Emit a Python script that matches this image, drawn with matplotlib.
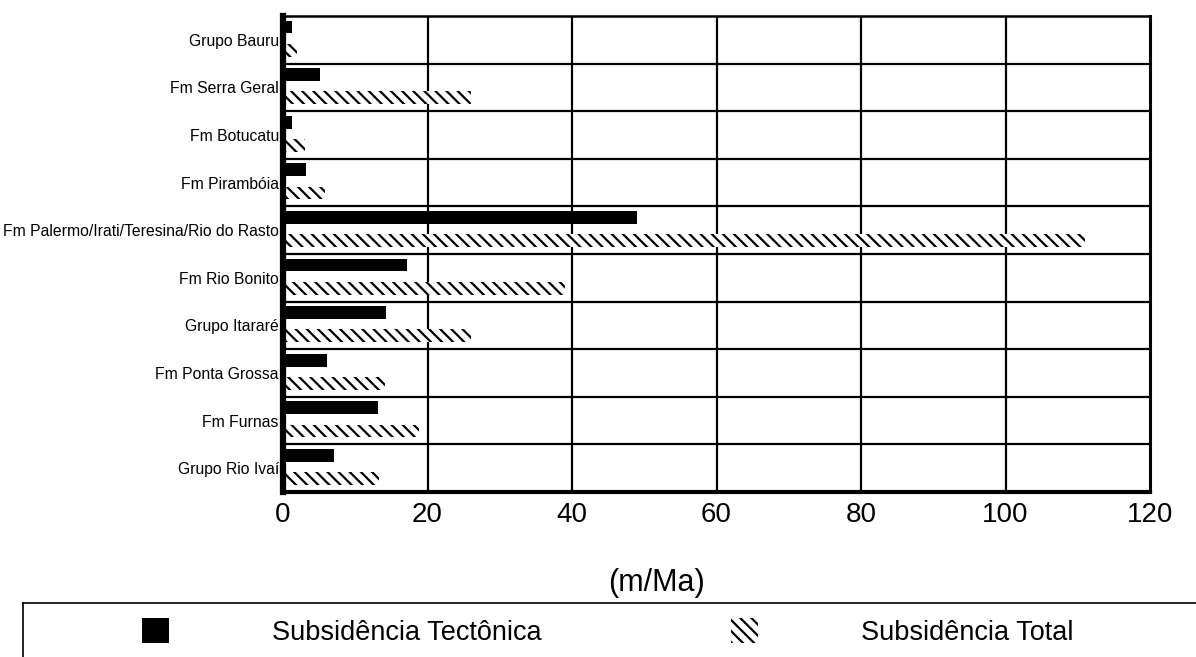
import matplotlib
matplotlib.use("Agg")
import matplotlib.pyplot as plt
from matplotlib.patches import Patch
from matplotlib.lines import Line2D
import numpy as np

plt.rcParams['font.family'] = ['Liberation Sans', 'DejaVu Sans']
plt.rcParams['hatch.linewidth'] = 1.6

categories = ["Grupo Bauru", "Fm Serra Geral", "Fm Botucatu", "Fm Pirambóia",
              "Fm Palermo/Irati/Teresina/Rio do Rasto", "Fm Rio Bonito",
              "Grupo Itararé", "Fm Ponta Grossa", "Fm Furnas", "Grupo Rio Ivaí"]
tectonica = [1.2, 5.1, 1.2, 3.2, 49, 17.1, 14.2, 6.1, 13.2, 7.1]
total = [2, 26, 3, 5.8, 111, 39, 26, 14.1, 18.8, 13.3]
xticks = [0, 20, 40, 60, 80, 100, 120]
series_names = ["Subsidência Tectônica", "Subsidência Total"]

HATCH = '\\\\\\'

fig = plt.figure(figsize=(11.96, 6.57), dpi=100)
ax = fig.add_axes([283/1196, 1-492/657, (1150-283)/1196, (492-16)/657])

y = np.arange(len(categories))
ax.barh(y - 0.27, tectonica, height=0.27, color='black', zorder=3)
ax.barh(y + 0.22, total, height=0.27, facecolor='white', edgecolor='black',
        linewidth=0, hatch=HATCH, zorder=3)

ax.set_xlim(0, 120)
ax.set_ylim(len(categories) - 0.5, -0.5)
ax.set_xticks(xticks)
ax.set_xticklabels([str(t) for t in xticks], fontsize=20)
ax.set_yticks(y)
ax.set_yticklabels(categories, fontsize=11.3)
ax.tick_params(axis='both', length=0)
ax.tick_params(axis='x', pad=7)
ax.tick_params(axis='y', pad=3)

for xv in xticks[1:-1]:
    ax.axvline(xv, color='black', lw=1.6, zorder=2)
for b in np.arange(0.5, len(categories) - 0.5, 1.0):
    ax.axhline(b, color='black', lw=1.6, zorder=2)

ax.spines['left'].set_linewidth(4.5)
ax.spines['bottom'].set_linewidth(3)
ax.spines['top'].set_linewidth(1.8)
ax.spines['right'].set_linewidth(2.2)
for s in ax.spines.values():
    s.set_zorder(4)

ax.set_xlabel("(m/Ma)", fontsize=22)
ax.xaxis.set_label_coords((657-283)/867, -(583-492)/476)
ax.xaxis.label.set_verticalalignment('center')

# legend frame lines (top and left)
fig.add_artist(Line2D([23/1196, 1.0], [1-603/657, 1-603/657],
                      transform=fig.transFigure, color='black', lw=1.2))
fig.add_artist(Line2D([23/1196, 23/1196], [1-603/657, 0.0],
                      transform=fig.transFigure, color='black', lw=1.2))

handles = [Patch(facecolor='black', edgecolor='black', linewidth=0),
           Patch(facecolor='white', edgecolor='black', linewidth=0, hatch=HATCH)]
fig.legend(handles, series_names, loc='center left',
           bbox_to_anchor=(142/1196, 1-632/657), ncol=2, frameon=False,
           fontsize=19.5, handlelength=1.0, handleheight=1.07,
           handletextpad=3.8, columnspacing=7.0, borderpad=0, borderaxespad=0)

fig.savefig("out.png", dpi=100)
